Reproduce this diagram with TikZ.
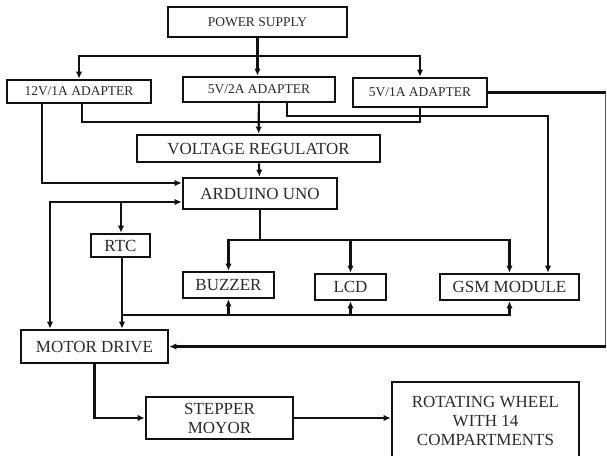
\documentclass[tikz,border=0pt]{standalone}
\usepackage{fontspec}
\setmainfont{Liberation Serif}
\usepackage{tikz}
\usetikzlibrary{arrows.meta,positioning}
\definecolor{inkbox}{HTML}{111111}
\definecolor{inktext}{HTML}{2A2A2A}
\definecolor{inkedge}{HTML}{555555}
\tikzset{
  block/.style={draw=inkbox, line width=2.2pt, inner sep=0pt, align=center,
                font=\fontsize{14.5}{16.2}\selectfont\color{inktext}},
  adapter/.style={block, font=\fontsize{11.5}{13}\selectfont\color{inktext}},
  flow/.style={-{Latex[length=2.1mm,width=1.9mm]}, line width=1.8pt, draw=inkbox},
  wire/.style={line width=1.8pt, draw=inkbox},
  edgewire/.style={line width=0.8pt, draw=inkedge}
}

\begin{document}
\begin{tikzpicture}[x=0.3mm,y=-0.3mm]
  \useasboundingbox (0,0) rectangle (607,455);

  % supply side
  \node[adapter, minimum width=53.7mm, minimum height=9mm] (psu) at (257.5,22) {POWER SUPPLY};
  \node[adapter, minimum width=43.2mm, minimum height=6.9mm] (ad12) at (79,91.5) {12V/1A ADAPTER};
  \node[adapter, minimum width=45.6mm, minimum height=7.5mm] (ad52) at (259,89.5) {5V/2A ADAPTER};
  \node[adapter, minimum width=40.2mm, minimum height=8.7mm] (ad51) at (420,92.5) {5V/1A ADAPTER};
  \node[block, minimum width=72.9mm, minimum height=8.1mm] (vreg) at (258.5,148.5) {VOLTAGE REGULATOR};
  \node[block, minimum width=46.2mm, minimum height=9.3mm] (uno) at (260,193.5) {ARDUINO UNO};

  % peripherals
  \node[block, minimum width=17.7mm, minimum height=6.9mm] (rtc) at (120.5,245.5) {RTC};
  \node[block, minimum width=27.3mm, minimum height=7.8mm] (buzzer) at (228.5,285) {BUZZER};
  \node[block, minimum width=21.3mm, minimum height=7.8mm] (lcd) at (350.5,287) {LCD};
  \node[block, minimum width=41.7mm, minimum height=7.8mm] (gsm) at (509.5,287) {GSM MODULE};

  % drive chain
  \node[block, minimum width=44.1mm, minimum height=9.9mm] (motor) at (94.5,346.5) {MOTOR DRIVE};
  \node[block, minimum width=44.1mm, minimum height=12.6mm] (stepper) at (219.5,418) {STEPPER\\MOYOR};
  \node[block, minimum width=56.1mm, minimum height=23.4mm] (wheel) at (485.5,421) {ROTATING WHEEL\\WITH 14\\COMPARTMENTS};

  \coordinate (split) at (257.5,56);
  \coordinate (unobus) at (260,240);
  \coordinate (rtcsplit) at (121,202);
  \coordinate (rtcbus) at (122,315);
  \coordinate (edgetop) at (605.5,92.5);
  \coordinate (edgebot) at (605.5,346.5);

  % power distribution
  \draw[wire] (psu.south) -- (split);
  \draw[flow] (split) -| (ad12);
  \draw[flow] (split) -- (split |- ad52.north);
  \draw[flow] (split) -| (ad51);
  \draw[flow] (ad12.south -| 42,0) |- (uno.west |- 0,183);
  \draw[wire] (ad12.south -| 82,0) |- (ad51.south |- 0,122) -- (ad51.south);
  \draw[flow] (ad52) -- (vreg);
  \draw[flow] (vreg) -- (uno);
  \draw[flow] (ad52.south -| 287,0) |- (548,116) -- (gsm.north -| 548,0);
  \draw[wire] (ad51.east) -- (edgetop);
  \draw[edgewire] (edgetop) -- (edgebot);
  \draw[flow] (edgebot) -- (motor.east);

  % arduino outputs
  \draw[flow] (rtcsplit) -- (uno.west |- rtcsplit);
  \draw[flow] (rtcsplit) -| (motor.north -| 50,0);
  \draw[flow] (rtcsplit) -- (rtc.north -| rtcsplit);
  \draw[wire] (uno) -- (unobus);
  \draw[flow] (unobus) -| (buzzer);
  \draw[flow] (unobus) -| (gsm);
  \draw[flow] (lcd.north |- unobus) -- (lcd);

  % rtc to drive and displays
  \draw[flow] (rtc.south -| rtcbus) -- (motor.north -| rtcbus);
  \draw[flow] (rtcbus) -| (gsm.south);
  \draw[flow] (buzzer.south |- rtcbus) -- (buzzer.south);
  \draw[flow] (lcd.south |- rtcbus) -- (lcd.south);

  % motor chain
  \draw[flow] (motor) |- (stepper);
  \draw[flow] (stepper.east) -- (stepper.east -| wheel.west);
\end{tikzpicture}
\end{document}
